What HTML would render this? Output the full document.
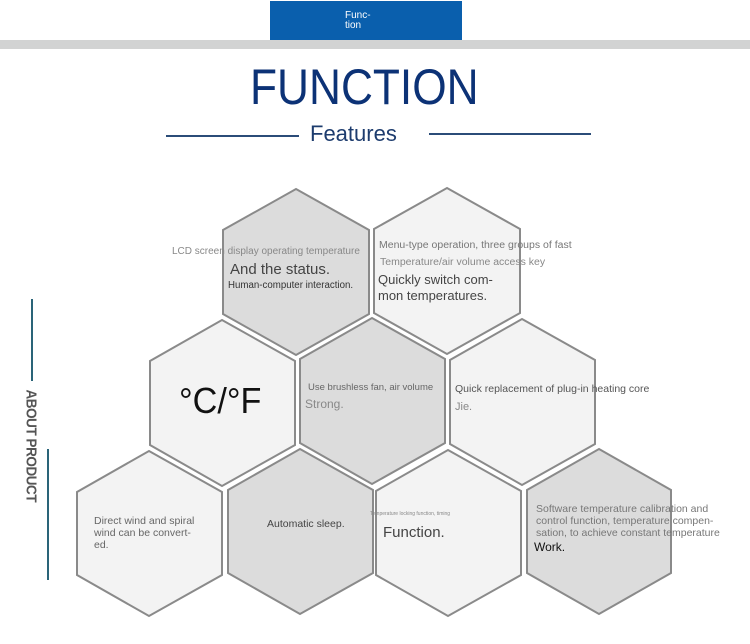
<!DOCTYPE html>
<html><head><meta charset="utf-8"><style>
body{margin:0;width:750px;height:644px;background:#fff;overflow:hidden;font-family:"Liberation Sans",sans-serif;position:relative}
.t{position:absolute;white-space:nowrap}
</style></head><body>
<div style="position:absolute;left:270px;top:1px;width:192px;height:39px;background:#0a5fad"></div>
<div class="t" style="left:345px;top:11px;color:#fff;font-size:10px;line-height:10px">Func-<br>tion</div>
<div style="position:absolute;left:0;top:40px;width:750px;height:9px;background:#d2d3d3"></div>
<div class="t" style="left:250px;top:58px;color:#0c3276;font-size:50px;line-height:58px;transform:scaleX(0.885);transform-origin:0 0">FUNCTION</div>
<div style="position:absolute;left:166px;top:135px;width:133px;height:2px;background:#2b4c78"></div>
<div style="position:absolute;left:429px;top:133px;width:162px;height:2px;background:#2b4c78"></div>
<div class="t" style="left:310px;top:121px;color:#1d3c6e;font-size:22px;line-height:26px">Features</div>
<div style="position:absolute;left:31px;top:299px;width:2px;height:82px;background:#2a6478"></div>
<div style="position:absolute;left:47px;top:449px;width:2px;height:131px;background:#2a6478"></div>
<div class="t" style="left:-29px;top:435px;transform:rotate(90deg) scaleX(0.9);color:#555;font-size:15px;font-weight:bold;letter-spacing:-0.5px;width:120px;text-align:center">ABOUT PRODUCT</div>
<svg width="750" height="644" style="position:absolute;left:0;top:0">
<g stroke="#8a8a8a" stroke-width="2">
<polygon fill="#dcdcdc" points="296,189 369,230 369,314 296,355 223,314 223,230"/>
<polygon fill="#f3f3f3" points="447,188 520,229 520,313 447,354 374,313 374,229"/>
<polygon fill="#f3f3f3" points="222,320 295,361 295,445 222,486 150,445 150,361"/>
<polygon fill="#dcdcdc" points="372,318 445,359 445,443 372,484 300,443 300,359"/>
<polygon fill="#f3f3f3" points="522,319 595,360 595,444 522,485 450,444 450,360"/>
<polygon fill="#f3f3f3" points="149,451 222,492 222,575 149,616 77,575 77,492"/>
<polygon fill="#dcdcdc" points="300,449 373,490 373,573 300,614 228,573 228,490"/>
<polygon fill="#f3f3f3" points="448,450 521,491 521,575 448,616 376,575 376,491"/>
<polygon fill="#dcdcdc" points="599,449 671,490 671,573 599,614 527,573 527,490"/>
</g></svg>
<div class="t" style="left:172px;top:246px;font-size:10px;color:#888">LCD screen display operating temperature</div>
<div class="t" style="left:230px;top:261px;font-size:15px;color:#444">And the status.</div>
<div class="t" style="left:228px;top:280px;font-size:10px;color:#333;transform:scaleX(0.97);transform-origin:0 0">Human-computer interaction.</div>
<div class="t" style="left:379px;top:240px;font-size:10px;color:#777;transform:scaleX(1.05);transform-origin:0 0">Menu-type operation, three groups of fast</div>
<div class="t" style="left:380px;top:257px;font-size:10px;color:#888;transform:scaleX(1.05);transform-origin:0 0">Temperature/air volume access key</div>
<div class="t" style="left:378px;top:272px;font-size:13px;line-height:16px;color:#444">Quickly switch com-<br>mon temperatures.</div>
<div class="t" style="left:179px;top:380px;font-size:36px;color:#111;transform:scaleX(0.95);transform-origin:0 0">°C/°F</div>
<div class="t" style="left:308px;top:382px;font-size:9.5px;color:#666">Use brushless fan, air volume</div>
<div class="t" style="left:305px;top:397px;font-size:12px;color:#888">Strong.</div>
<div class="t" style="left:455px;top:383px;font-size:10.5px;color:#555">Quick replacement of plug-in heating core</div>
<div class="t" style="left:455px;top:401px;font-size:11px;color:#888">Jie.</div>
<div class="t" style="left:94px;top:515px;font-size:10.5px;line-height:12px;color:#666">Direct wind and spiral<br>wind can be convert-<br>ed.</div>
<div class="t" style="left:267px;top:518px;font-size:10.5px;color:#444">Automatic sleep.</div>
<div class="t" style="left:370px;top:511px;font-size:5px;color:#888">Temperature locking function, timing</div>
<div class="t" style="left:383px;top:524px;font-size:15px;color:#444">Function.</div>
<div class="t" style="left:536px;top:503px;font-size:10.5px;line-height:12px;color:#777">Software temperature calibration and<br>control function, temperature compen-<br>sation, to achieve constant temperature</div>
<div class="t" style="left:534px;top:540px;font-size:12px;color:#111">Work.</div>
</body></html>
